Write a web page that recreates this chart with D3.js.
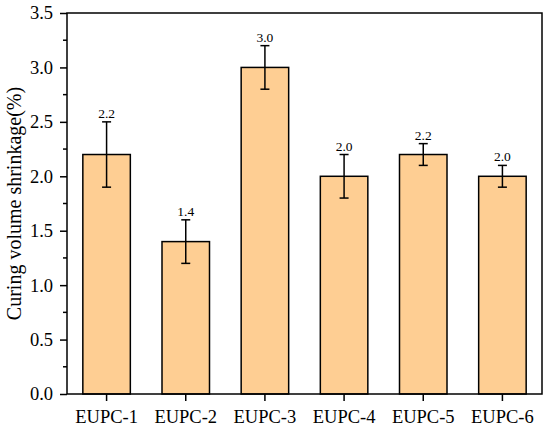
<!DOCTYPE html>
<html><head><meta charset="utf-8">
<script src="https://cdn.jsdelivr.net/npm/d3@7"></script>
<style>body{margin:0;background:#fff}svg{display:block}</style>
</head><body><svg id="c" width="550" height="433"></svg>
<script>
const categories = ["EUPC-1","EUPC-2","EUPC-3","EUPC-4","EUPC-5","EUPC-6"];
const values = [2.2, 1.4, 3.0, 2.0, 2.2, 2.0];
const errors = [0.3, 0.2, 0.2, 0.2, 0.1, 0.1];
const labels = ["2.2","1.4","3.0","2.0","2.2","2.0"];
const yTicks = [0,0.5,1.0,1.5,2.0,2.5,3.0,3.5];

const svg = d3.select("#c");
const m = {l:67, r:8, t:13, b:39};
const W = 550, H = 433;
const x = d3.scaleBand().domain(categories).range([m.l, W-m.r]).paddingInner(0.4).paddingOuter(0.2);
const y = d3.scaleLinear().domain([0,3.5]).range([H-m.b, m.t]);
const font = "Liberation Serif";

// bars
svg.append("g").selectAll("rect").data(categories).join("rect")
  .attr("x", d=>x(d)).attr("y", (d,i)=>y(values[i]))
  .attr("width", x.bandwidth()).attr("height", (d,i)=>y(0)-y(values[i]))
  .attr("fill", "#FECE93").attr("stroke", "#000").attr("stroke-width", 1.5);

// error bars
const eb = svg.append("g").attr("stroke","#000").attr("stroke-width",1.5);
categories.forEach((c,i)=>{
  const cx = x(c)+x.bandwidth()/2;
  const t = y(values[i]+errors[i]), b = y(values[i]-errors[i]);
  eb.append("line").attr("x1",cx).attr("x2",cx).attr("y1",t).attr("y2",b);
  eb.append("line").attr("x1",cx-4.5).attr("x2",cx+4.5).attr("y1",t).attr("y2",t);
  eb.append("line").attr("x1",cx-4.5).attr("x2",cx+4.5).attr("y1",b).attr("y2",b);
  svg.append("text").attr("x",cx).attr("y",t-4).attr("text-anchor","middle")
    .attr("font-family",font).attr("font-size",13.5).text(labels[i]);
});

// frame
svg.append("rect").attr("x",m.l).attr("y",m.t).attr("width",W-m.r-m.l).attr("height",H-m.b-m.t)
  .attr("fill","none").attr("stroke","#000").attr("stroke-width",1.5);

// y axis
const ya = svg.append("g").attr("transform",`translate(${m.l},0)`)
  .call(d3.axisLeft(y).tickValues(yTicks).tickFormat(d3.format(".1f")).tickSize(7).tickPadding(7));
ya.select(".domain").remove();
ya.selectAll("line").attr("stroke-width",1.5);
ya.selectAll("text").attr("font-family",font).attr("font-size",18.5).attr("fill","#000");
const minor = d3.range(0.25,3.5,0.5);
svg.append("g").selectAll("line").data(minor).join("line")
  .attr("x1",m.l-4).attr("x2",m.l).attr("y1",d=>y(d)).attr("y2",d=>y(d))
  .attr("stroke","#000").attr("stroke-width",1.5);

// x axis
const xa = svg.append("g").attr("transform",`translate(0,${H-m.b})`)
  .call(d3.axisBottom(x).tickSize(7).tickPadding(9));
xa.select(".domain").remove();
xa.selectAll("line").attr("stroke-width",1.5);
xa.selectAll("text").attr("font-family",font).attr("font-size",18.5).attr("fill","#000");

// y label
svg.append("text").attr("transform",`translate(21,${(m.t+H-m.b)/2}) rotate(-90)`)
  .attr("text-anchor","middle").attr("font-family",font).attr("font-size",20)
  .text("Curing volume shrinkage(%)");
</script></body></html>
